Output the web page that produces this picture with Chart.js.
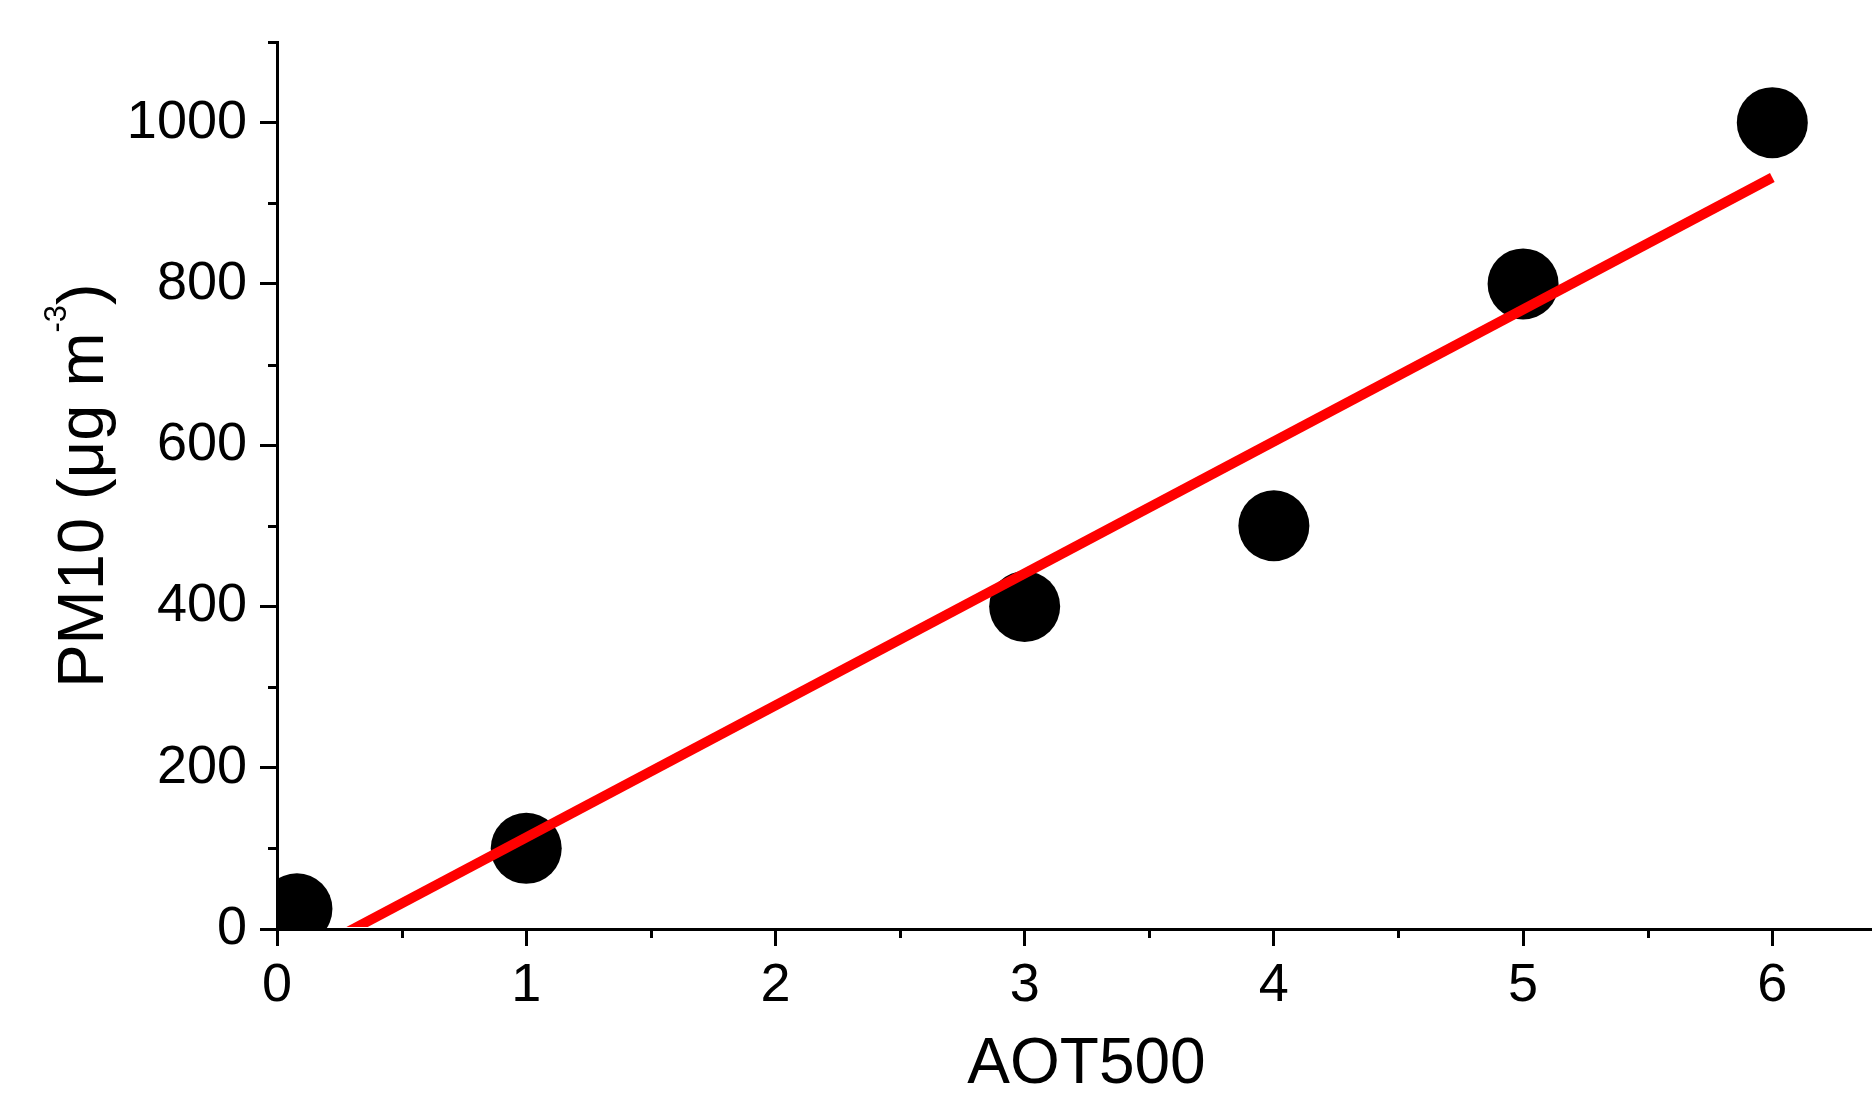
<!DOCTYPE html>
<html>
<head>
<meta charset="utf-8">
<script src="https://cdn.jsdelivr.net/npm/chart.js@4"></script>
<style>
html, body { margin: 0; padding: 0; background: #fff; }
#wrap { width: 1872px; height: 1095px; position: relative; }
</style>
</head>
<body>
<div id="wrap"><canvas id="c"></canvas></div>
<script>
// ---- data ----
const aot500 = [0.08, 1, 3, 4, 5, 6];
const pm10 = [25, 100, 400, 500, 800, 1000];
const fitX = [0.08, 6];
const fitY = [-37, 932];
const xTicks = [0, 1, 2, 3, 4, 5, 6];
const yTicks = [0, 200, 400, 600, 800, 1000];
const xMinorTicks = [0.5, 1.5, 2.5, 3.5, 4.5, 5.5];
const yMinorTicks = [100, 300, 500, 700, 900, 1100];
const xTitle = 'AOT500';
const yTitleMain = 'PM10 (\u03bcg m';
const yTitleSup = '-3';
const yTitleEnd = ')';

const FONT = "'Liberation Sans', Arial, sans-serif";

const decor = {
  id: 'decor',
  afterDraw(chart) {
    const ctx = chart.ctx;
    const xs = chart.scales.x, ys = chart.scales.y;
    const a = chart.chartArea;
    ctx.save();
    ctx.strokeStyle = '#000';
    ctx.lineWidth = 3;
    ctx.lineCap = 'butt';
    xMinorTicks.forEach(v => {
      const px = Math.round(xs.getPixelForValue(v)) + 0.5;
      ctx.beginPath(); ctx.moveTo(px, a.bottom); ctx.lineTo(px, a.bottom + 9); ctx.stroke();
    });
    yMinorTicks.forEach(v => {
      const py = Math.round(ys.getPixelForValue(v)) + 0.5;
      ctx.beginPath(); ctx.moveTo(a.left, py); ctx.lineTo(a.left - 9, py); ctx.stroke();
    });
    // axis titles
    ctx.fillStyle = '#000';
    ctx.textBaseline = 'alphabetic';
    ctx.textAlign = 'center';
    ctx.font = '64px ' + FONT;
    ctx.fillText(xTitle, (a.left + a.right) / 2 + 12, 1083);

    ctx.translate(103, (a.top + a.bottom) / 2);
    ctx.rotate(-Math.PI / 2);
    ctx.textAlign = 'left';
    ctx.font = '65px ' + FONT;
    const w1 = ctx.measureText(yTitleMain).width;
    const w3 = ctx.measureText(yTitleEnd).width;
    ctx.font = '31px ' + FONT;
    const w2 = ctx.measureText(yTitleSup).width;
    const start = -(w1 + w2 + w3) / 2;
    ctx.font = '65px ' + FONT;
    ctx.fillText(yTitleMain, start, 0);
    ctx.font = '31px ' + FONT;
    ctx.fillText(yTitleSup, start + w1, -37);
    ctx.font = '65px ' + FONT;
    ctx.fillText(yTitleEnd, start + w1 + w2, 0);
    ctx.restore();
  }
};

Chart.defaults.font.family = FONT;
Chart.defaults.color = '#000';

new Chart(document.getElementById('c'), {
  type: 'scatter',
  data: {
    datasets: [
      {
        type: 'line',
        label: 'Fit',
        data: fitX.map((x, i) => ({ x: x, y: fitY[i] })),
        borderColor: '#ff0000',
        borderWidth: 10,
        pointRadius: 0,
        showLine: true,
        fill: false,
        tension: 0,
        order: 0,
        clip: { left: 0, top: 0, right: 0, bottom: -2 }
      },
      {
        label: 'PM10',
        data: aot500.map((x, i) => ({ x: x, y: pm10[i] })),
        backgroundColor: '#000',
        borderColor: '#000',
        borderWidth: 0,
        pointRadius: 35.5,
        pointHoverRadius: 35.5,
        order: 1,
        clip: 0
      }
    ]
  },
  options: {
    responsive: true,
    maintainAspectRatio: false,
    animation: false,
    events: [],
    layout: { autoPadding: false, padding: { top: 42, left: 0, right: 0, bottom: 0 } },
    plugins: { legend: { display: false }, tooltip: { enabled: false }, title: { display: false } },
    scales: {
      x: {
        type: 'linear',
        min: 0,
        max: 6.4,
        afterBuildTicks: s => { s.ticks = xTicks.map(v => ({ value: v })); },
        afterFit: s => { s.height = 166; s.paddingLeft = 0; s.paddingRight = 0; },
        ticks: { font: { size: 54, lineHeight: 1.2 }, padding: 8, color: '#000', maxRotation: 0, autoSkip: false, includeBounds: false,
                 callback: v => String(v) },
        grid: { display: true, drawOnChartArea: false, drawTicks: true, tickLength: 17, tickWidth: 3, lineWidth: 3, tickColor: '#000', color: '#000' },
        border: { display: true, width: 3, color: '#000' },
        title: { display: false }
      },
      y: {
        type: 'linear',
        min: 0,
        max: 1100,
        afterBuildTicks: s => { s.ticks = yTicks.map(v => ({ value: v })); },
        afterFit: s => { s.width = 277; s.paddingTop = 0; s.paddingBottom = 0; },
        ticks: { font: { size: 54, lineHeight: 1.2 }, padding: 13, color: '#000', autoSkip: false, includeBounds: false,
                 callback: v => String(v) },
        grid: { display: true, drawOnChartArea: false, drawTicks: true, tickLength: 17, tickWidth: 3, lineWidth: 3, tickColor: '#000', color: '#000' },
        border: { display: true, width: 3, color: '#000' },
        title: { display: false }
      }
    }
  },
  plugins: [decor]
});
</script>
</body>
</html>
